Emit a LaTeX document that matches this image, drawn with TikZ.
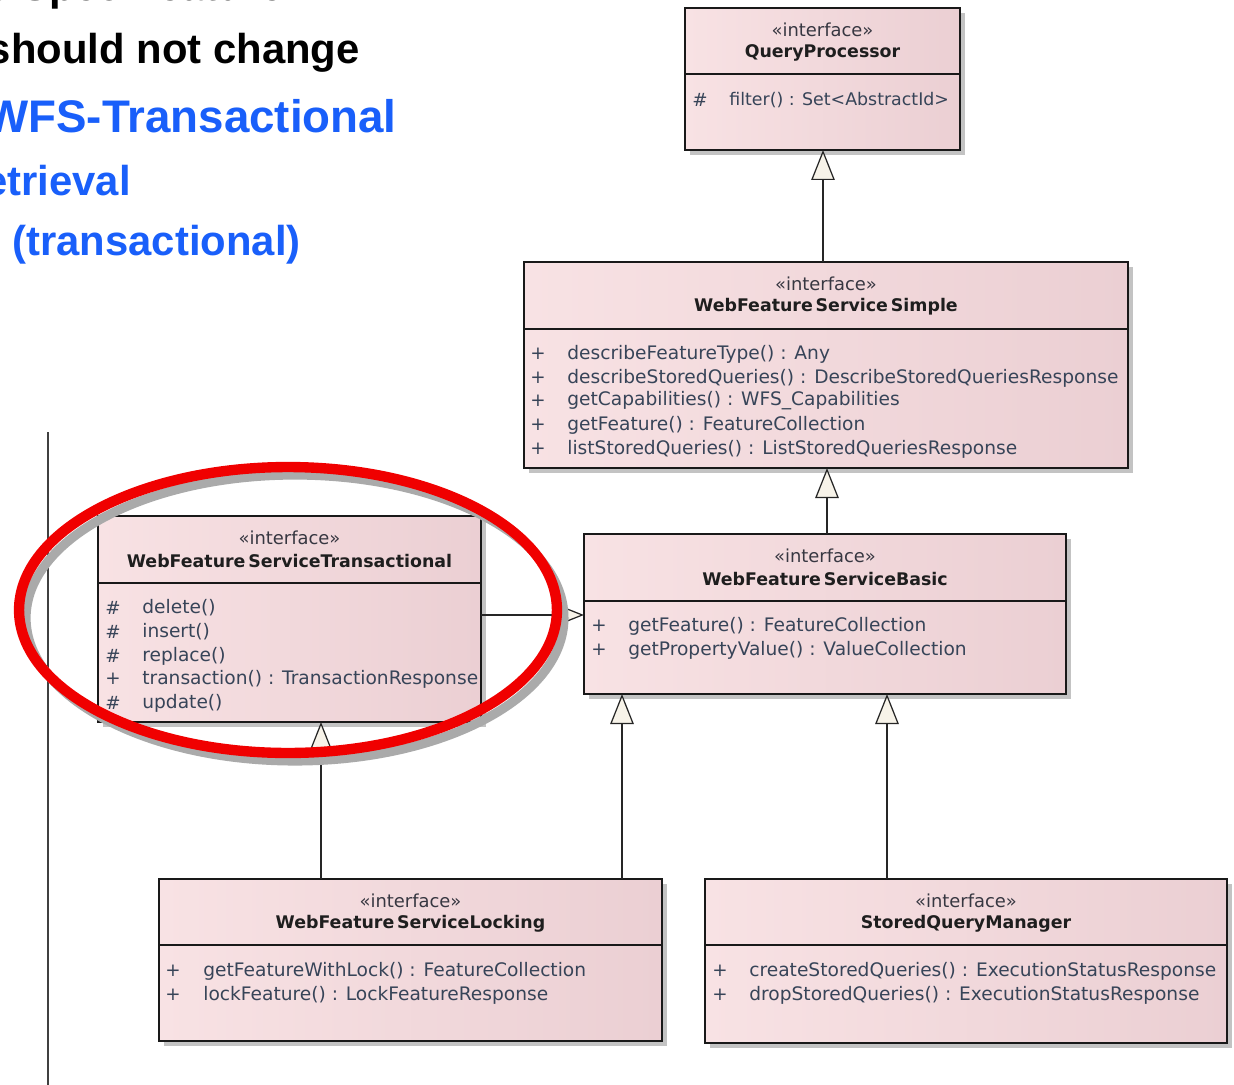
\documentclass[tikz,border=0pt]{standalone}
\usepackage{fontspec}
\setmainfont{DejaVu Sans}
\newfontfamily\headfont{Liberation Sans}
\usetikzlibrary{arrows.meta,calc}

\definecolor{boxL}{RGB}{248,226,228}
\definecolor{boxR}{RGB}{235,207,211}
\definecolor{shadowgray}{RGB}{195,195,195}
\definecolor{methcol}{RGB}{55,68,88}
\definecolor{stcol}{RGB}{55,55,65}
\definecolor{namecol}{RGB}{30,30,30}
\definecolor{arrowfill}{RGB}{247,243,233}
\definecolor{titleblue}{RGB}{25,95,250}
\definecolor{ellred}{RGB}{240,0,0}
\definecolor{ellshadow}{RGB}{170,170,170}

\tikzset{
  classbox/.style={draw=black!90, line width=0.85pt, left color=boxL, right color=boxR, inner sep=0pt, outer sep=0pt},
  boxline/.style={draw=black!90, line width=0.85pt},
  stereo/.style={font=\fontsize{10.2}{12}\selectfont, text=stcol, inner sep=0pt},
  cname/.style={font=\bfseries\fontsize{9.9}{12}\selectfont, text=namecol, inner sep=0pt},
  meth/.style={font=\fontsize{10.6}{12}\selectfont, text=methcol, anchor=west, inner sep=0pt},
  vis/.style={font=\fontsize{10.4}{12}\selectfont, text=methcol, inner sep=0pt},
  gen/.style={draw=black!85, line width=0.7pt, -{Triangle[length=0.6cm, width=0.47cm, fill=arrowfill, line width=0.7pt]}},
  titleblk/.style={font=\headfont\bfseries\fontsize{23.8}{28}\selectfont, text=black, inner sep=0pt},
  titleblu/.style={font=\headfont\bfseries\fontsize{23.8}{28}\selectfont, text=titleblue, inner sep=0pt},
}

\newcommand\umlclass[6]{%
  \fill[shadowgray] (#2+5,#3+5) rectangle (#4+5,#5+5);
  \node[classbox, anchor=north west, minimum width={(#4-#2)*0.02cm}, minimum height={(#5-#3)*0.02cm}] (#1) at (#2,#3) {};
  \draw[boxline] (#1.west |- 0,#6) -- (#1.east |- 0,#6);
}

\begin{document}
\begin{tikzpicture}[x=0.02cm, y=-0.02cm]
\useasboundingbox (0,0) rectangle (1234,1085);
\fill[white] (0,0) rectangle (1234,1085);
\clip (0,0) rectangle (1234,1085);

% heading texts (partly cut off at the left and top)
\node[titleblk, anchor=base west] (t0) at (-14,1) {e Spec Feature};
\node[titleblk, anchor=base east] (t1) at (360,63) {should not change};
\node[titleblu, anchor=base east, font=\headfont\bfseries\fontsize{26}{30}\selectfont] (t2) at (397,132) {WFS-Transactional};
\node[titleblu, anchor=base east] (t3) at (131,195) {etrieval};
\node[titleblu, anchor=base east] (t4) at (301,255) {(transactional)};

% left vertical line
\draw[line width=1.1pt, black!75] (48,432) -- (48,1085);

% classes
\umlclass{qp}{685}{8}{960}{150}{74}
\node[stereo] (qp-s) at (822.5,30) {«interface»};
\node[cname] (qp-n) at (822.5,53) {QueryProcessor};
\node[vis] (qp-v1) at (700,100) {\#};
\node[meth, font=\fontsize{9.9}{12}\selectfont] (qp-m1) at (729,100) {filter() : Set<AbstractId>};

\umlclass{simple}{524}{262}{1128}{468}{329}
\node[stereo] (si-s) at (826,284) {«interface»};
\node[cname] (si-n) at (826,307) {WebFeature\,Service\,Simple};
\node[vis] (si-v1) at (538,354) {+};
\node[vis] (si-v2) at (538,378) {+};
\node[vis] (si-v3) at (538,401) {+};
\node[vis] (si-v4) at (538,425) {+};
\node[vis] (si-v5) at (538,449) {+};
\node[meth] (si-m1) at (567,354) {describeFeatureType() : Any};
\node[meth] (si-m2) at (567,378) {describeStoredQueries() : DescribeStoredQueriesResponse};
\node[meth] (si-m3) at (567,401) {getCapabilities() : WFS\_Capabilities};
\node[meth] (si-m4) at (567,425) {getFeature() : FeatureCollection};
\node[meth] (si-m5) at (567,449) {listStoredQueries() : ListStoredQueriesResponse};

\umlclass{basic}{584}{534}{1066}{694}{601}
\node[stereo] (ba-s) at (825,556) {«interface»};
\node[cname] (ba-n) at (825,579) {WebFeature\,ServiceBasic};
\node[vis] (ba-v1) at (599,626) {+};
\node[vis] (ba-v2) at (599,650) {+};
\node[meth] (ba-m1) at (628,626) {getFeature() : FeatureCollection};
\node[meth] (ba-m2) at (628,650) {getPropertyValue() : ValueCollection};

\umlclass{trans}{98}{516}{481}{722}{583}
\node[stereo] (tr-s) at (289.5,538) {«interface»};
\node[cname] (tr-n) at (289.5,561) {WebFeature\,ServiceTransactional};
\node[vis] (tr-v1) at (113,608) {\#};
\node[vis] (tr-v2) at (113,632) {\#};
\node[vis] (tr-v3) at (113,656) {\#};
\node[vis] (tr-v4) at (113,679) {+};
\node[vis] (tr-v5) at (113,703) {\#};
\node[meth] (tr-m1) at (142,608) {delete()};
\node[meth] (tr-m2) at (142,632) {insert()};
\node[meth] (tr-m3) at (142,656) {replace()};
\node[meth] (tr-m4) at (142,679) {transaction() : TransactionResponse};
\node[meth] (tr-m5) at (142,703) {update()};

\umlclass{lock}{159}{879}{662}{1041}{945}
\node[stereo] (lo-s) at (410.5,901) {«interface»};
\node[cname] (lo-n) at (410.5,924) {WebFeature\,ServiceLocking};
\node[vis] (lo-v1) at (173,971) {+};
\node[vis] (lo-v2) at (173,995) {+};
\node[meth] (lo-m1) at (203,971) {getFeatureWithLock() : FeatureCollection};
\node[meth] (lo-m2) at (203,995) {lockFeature() : LockFeatureResponse};

\umlclass{sqm}{705}{879}{1227}{1043}{945}
\node[stereo] (sq-s) at (966,901) {«interface»};
\node[cname] (sq-n) at (966,924) {StoredQueryManager};
\node[vis] (sq-v1) at (720,971) {+};
\node[vis] (sq-v2) at (720,995) {+};
\node[meth] (sq-m1) at (749,971) {createStoredQueries() : ExecutionStatusResponse};
\node[meth] (sq-m2) at (749,995) {dropStoredQueries() : ExecutionStatusResponse};

% generalizations
\draw[gen] (823,0 |- simple.north) -- (823,0 |- qp.south);
\draw[gen] (827,0 |- basic.north) -- (827,0 |- simple.south);
\draw[gen] (trans.east |- 0,615) -- (basic.west |- 0,615);
\draw[gen] (321,0 |- lock.north) -- (321,0 |- trans.south);
\draw[gen] (622,0 |- lock.north) -- (622,0 |- basic.south);
\draw[gen] (887,0 |- sqm.north) -- (887,0 |- basic.south);

% red highlight ellipse with its shadow
\coordinate (ellc) at (288,610);
\draw[ellshadow, line width=5.2pt] ($(ellc)+(7,8)$) ellipse [x radius=5.38cm, y radius=2.86cm];
\draw[ellred, line width=5.9pt] (ellc) ellipse [x radius=5.38cm, y radius=2.86cm];
\end{tikzpicture}
\end{document}
